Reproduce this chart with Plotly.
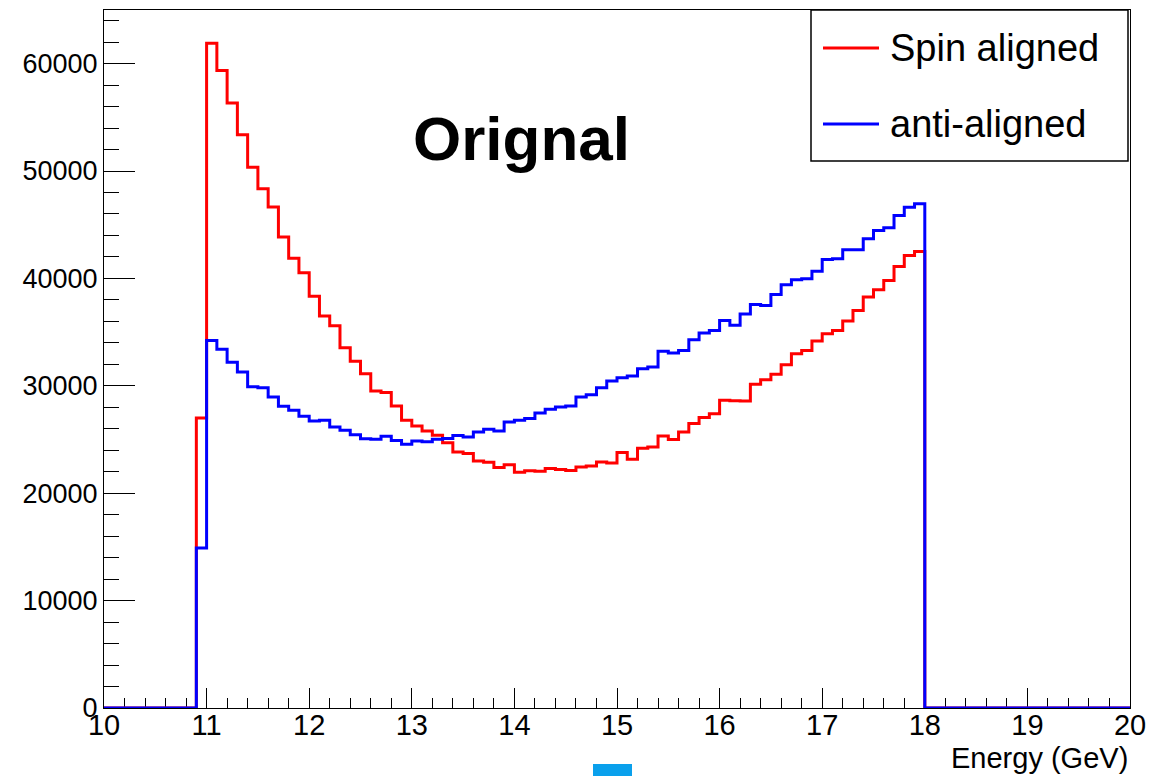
import plotly.graph_objects as go

# ---- data ----
x_min = 10.0
x_max = 20.0
n_bins = 100

spin_aligned = [0] * 9 + [
    27000, 61900, 59350, 56340, 53370, 50360, 48340, 46640, 43850, 41890, 40530,
    38350, 36490, 35600, 33550, 32280, 31130, 29520, 29370, 28120, 26790,
    26260, 25800, 25400, 24710, 23840, 23690, 23010, 22880, 22390, 22640,
    21950, 22100, 22050, 22300, 22200, 22110, 22450, 22540, 22910, 22820,
    23780, 23160, 24190, 24310, 25330, 25000, 25700, 26480, 27040, 27410,
    28650, 28620, 28590, 30140, 30570, 31070, 31970, 32990, 33300, 34170,
    34850, 35160, 36030, 37020, 38260, 38950, 39810, 41120, 42140, 42510,
] + [0] * 20

anti_aligned = [0] * 9 + [
    14900, 34230, 33400, 32190, 31290, 29910, 29830, 28960, 28090, 27720, 27160,
    26730, 26790, 26170, 25860, 25450, 25070, 25020, 25300, 24900, 24560,
    24870, 24800, 25020, 25090, 25370, 25240, 25700, 25950, 25800, 26620,
    26790, 26950, 27470, 27810, 28030, 28120, 28960, 29180, 29830, 30450,
    30760, 30910, 31600, 31750, 33210, 33050, 33300, 34300, 34910, 35160,
    36090, 35630, 36680, 37580, 37490, 38510, 39410, 39880, 39970, 40680,
    41770, 41830, 42670, 42670, 43690, 44470, 44710, 45860, 46630, 46950,
] + [0] * 20

series_names = ["Spin aligned", "anti-aligned"]
title_text = "Orignal"
x_title = "Energy (GeV)"

# ---- figure ----
bw = (x_max - x_min) / n_bins
edges = [x_min + i * bw for i in range(n_bins + 1)]

FONT = "Liberation Sans, Arial, Helvetica, sans-serif"
RED = "#FF0000"
BLUE = "#0000FF"

fig = go.Figure()
for vals, name, col in [(spin_aligned, series_names[0], RED),
                        (anti_aligned, series_names[1], BLUE)]:
    fig.add_trace(go.Scatter(
        x=edges, y=list(vals) + [vals[-1]],
        mode="lines", line=dict(shape="hv", color=col, width=3),
        name=name, showlegend=False, hoverinfo="skip",
    ))

ymax = 1.05 * max(max(spin_aligned), max(anti_aligned))

fig.update_layout(
    width=1151, height=776, autosize=False,
    margin=dict(l=104, r=21, t=10, b=68, autoexpand=False),
    paper_bgcolor="white", plot_bgcolor="white",
    font=dict(family=FONT, color="black"),
    showlegend=False,
    xaxis=dict(
        range=[x_min, x_max], dtick=1, tick0=10,
        ticks="inside", ticklen=20, tickwidth=1, tickcolor="black",
        minor=dict(ticks="inside", dtick=0.2, ticklen=10, tickwidth=1, tickcolor="black"),
        showgrid=False, zeroline=False, automargin=False,
        showline=True, mirror=True, linecolor="black", linewidth=1,
        tickfont=dict(size=29, family=FONT), layer="below traces",
        ticklabelstandoff=-9,
    ),
    yaxis=dict(
        range=[0, ymax], dtick=10000, tick0=0,
        ticks="inside", ticklen=31, tickwidth=1, tickcolor="black",
        minor=dict(ticks="inside", dtick=2000, ticklen=15, tickwidth=1, tickcolor="black"),
        showgrid=False, zeroline=False, automargin=False,
        showline=True, mirror=True, linecolor="black", linewidth=1,
        tickfont=dict(size=27, family=FONT), layer="below traces",
        tickformat="d",
    ),
)

def px_x(p):
    return (p - 104) / 1026.0

def px_y(p):
    return (708 - p) / 698.0

annotations = [
    dict(text="<b>%s</b>" % title_text, x=px_x(521), y=px_y(139), xref="paper", yref="paper",
         xanchor="center", yanchor="middle", showarrow=False,
         font=dict(size=62, family=FONT, color="black")),
    dict(text=x_title, x=1.0, y=px_y(758), xref="paper", yref="paper",
         xanchor="right", yanchor="middle", showarrow=False,
         font=dict(size=29, family=FONT, color="black")),
    dict(text=series_names[0], x=px_x(888), y=px_y(48), xref="paper", yref="paper",
         xanchor="left", yanchor="middle", showarrow=False,
         font=dict(size=38, family=FONT, color="black")),
    dict(text=series_names[1], x=px_x(888), y=px_y(124), xref="paper", yref="paper",
         xanchor="left", yanchor="middle", showarrow=False,
         font=dict(size=38, family=FONT, color="black")),
]
fig.update_layout(annotations=annotations)

shapes = [
    # legend box
    dict(type="rect", xref="paper", yref="paper",
         x0=px_x(811), x1=px_x(1128), y0=px_y(161), y1=px_y(10),
         line=dict(color="black", width=1.5), fillcolor="white", layer="above"),
    dict(type="line", xref="paper", yref="paper",
         x0=px_x(823), x1=px_x(879), y0=px_y(48), y1=px_y(48),
         line=dict(color=RED, width=3), layer="above"),
    dict(type="line", xref="paper", yref="paper",
         x0=px_x(823), x1=px_x(879), y0=px_y(124), y1=px_y(124),
         line=dict(color=BLUE, width=3), layer="above"),
    # small blue mark below the axis
    dict(type="rect", xref="paper", yref="paper",
         x0=px_x(593), x1=px_x(632), y0=px_y(776), y1=px_y(764),
         line=dict(width=0), fillcolor="#0AA0EC", layer="above"),
]
fig.update_layout(shapes=shapes)

fig.write_html("out.html")
